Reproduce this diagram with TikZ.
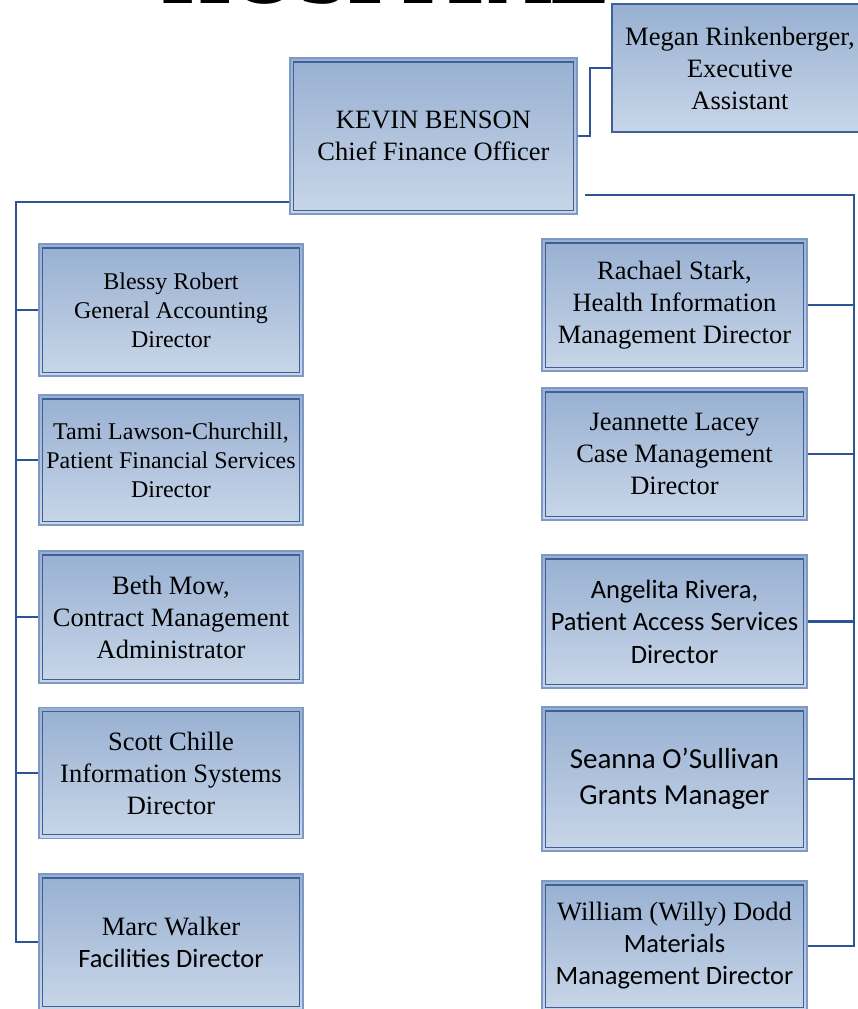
\documentclass[tikz,border=0pt]{standalone}
\usepackage{fontspec}
\setmainfont{Liberation Serif}
\newfontfamily\calfont{Carlito}
\definecolor{topc}{RGB}{152,176,210}
\definecolor{botc}{RGB}{200,214,232}
\definecolor{outc}{RGB}{125,153,196}
\definecolor{innc}{RGB}{62,96,150}
\definecolor{linec}{RGB}{47,84,150}
\begin{document}
\begin{tikzpicture}[x=1pt,y=-1pt,
  box/.style={rectangle, draw=outc, line width=1.2pt, top color=topc, bottom color=botc,
    minimum width=264pt, minimum height=132pt, inner sep=0pt, align=center,
    font=\fontsize{26.5}{32}\selectfont},
  smallbox/.style={box, font=\fontsize{24}{29}\selectfont},
  link/.style={draw=linec, line width=2.2pt},
  inner/.style={draw=innc, line width=1.2pt}]
\useasboundingbox (0,0) rectangle (858,1009);
\clip (0,0) rectangle (858,1009);

\node[anchor=base west, inner sep=0pt, font=\fontsize{88}{88}\selectfont\bfseries] (title) at (162,4) {HOSPITAL};

\node[box, minimum width=287pt, minimum height=156pt] (cfo) at (433.5,136) {KEVIN BENSON\\Chief Finance Officer};
\node[box, draw=innc, minimum width=256pt, minimum height=128pt] (megan) at (740,68) {Megan Rinkenberger,\\Executive\\Assistant};

\node[smallbox] (b1) at (171,310) {Blessy Robert\\General Accounting\\Director};
\node[smallbox, minimum height=130pt] (b2) at (171,460) {Tami Lawson-Churchill,\\Patient Financial Services\\Director};
\node[box] (b3) at (171,617) {Beth Mow,\\Contract Management\\Administrator};
\node[box, minimum height=131pt] (b4) at (171,773) {Scott Chille\\Information Systems\\Director};
\node[box, minimum height=136pt] (b5) at (171,942) {Marc Walker\\{\calfont Facilities Director}};

\node[box, minimum width=265pt] (r1) at (674.5,305) {Rachael Stark,\\Health Information\\Management Director};
\node[box, minimum width=265pt] (r2) at (674.5,454) {Jeannette Lacey\\Case Management\\Director};
\node[box, minimum width=265pt, minimum height=133pt, font=\fontsize{26.5}{32.5}\calfont] (r3) at (674.5,621.5) {Angelita Rivera,\\Patient Access Services\\Director};
\node[box, minimum width=265pt, minimum height=144pt, font=\fontsize{29}{36}\calfont] (r4) at (674.5,779) {Seanna O’Sullivan\\Grants Manager};
\node[box, minimum width=265pt, minimum height=130pt] (r5) at (674.5,946) {William (Willy) Dodd\\{\calfont Materials}\\{\calfont Management Director}};

\foreach \n in {cfo,b1,b2,b3,b4,b5,r1,r2,r3,r4,r5}
  \draw[inner] ([shift={(4pt,-4.5pt)}]\n.north west) rectangle ([shift={(-4pt,4.5pt)}]\n.south east);

% executive assistant
\coordinate (ma) at (590,136);
\draw[link] (cfo.east) -- (ma) |- (megan.west);

% left bus
\coordinate (lb) at (16,202);
\draw[link] ([yshift=-66pt]cfo.west) -- (lb) |- (b5.west);
\foreach \n in {b1,b2,b3,b4}
  \draw[link] (\n.west) -- (\n.west -| lb);

% right bus
\coordinate (rs) at (585,195);
\coordinate (rb) at (854,195);
\draw[link] (rs) -- (rb) |- (r5.east);
\foreach \n in {r1,r2,r3,r4}
  \draw[link] (\n.east) -- (\n.east -| rb);
\end{tikzpicture}
\end{document}
